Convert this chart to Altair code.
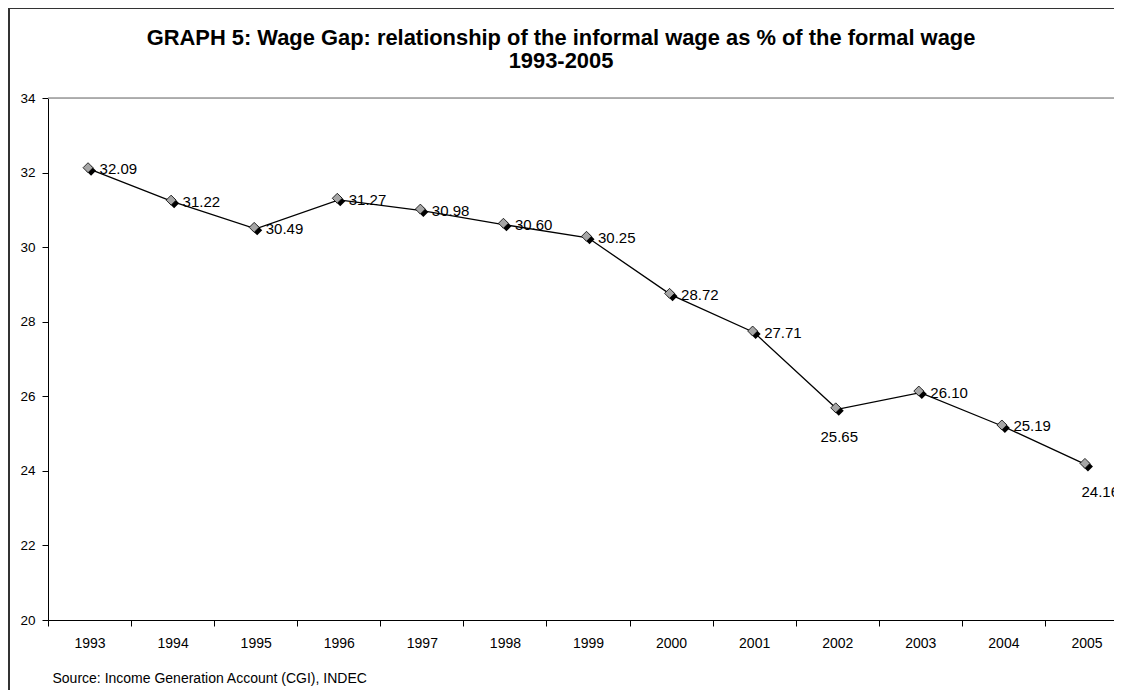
import altair as alt
import pandas as pd

# ---- data ----
years = ["1993", "1994", "1995", "1996", "1997", "1998", "1999",
         "2000", "2001", "2002", "2003", "2004", "2005"]
values = [32.09, 31.22, 30.49, 31.27, 30.98, 30.60, 30.25,
          28.72, 27.71, 25.65, 26.10, 25.19, 24.16]
labels_below = ["2002"]
labels_below_right = ["2005"]
y_ticks = [20, 22, 24, 26, 28, 30, 32, 34]

title_line1 = "GRAPH 5: Wage Gap: relationship of the informal wage as % of the formal wage"
title_line2 = "1993-2005"
source_text = "Source: Income Generation Account (CGI), INDEC"

df = pd.DataFrame({"year": years, "value": values,
                   "label": [f"{v:.2f}" for v in values]})

FONT = "Liberation Sans"
W, H = 1066, 522
BAND_RANGE = 1080

x_enc = alt.X(
    "year:O",
    scale=alt.Scale(type="band", range=[0, BAND_RANGE], paddingInner=0, paddingOuter=0),
    axis=alt.Axis(
        title=source_text,
        titleAnchor="start", titleAlign="left", titleBaseline="middle",
        titleX=4, titleY=58, titleFontSize=14, titleFontWeight="normal",
        titleColor="black", titleFont=FONT,
        labelAngle=0, labelFontSize=14, labelColor="black", labelFont=FONT,
        labelPadding=10,
        domainColor="black", domainWidth=1,
        tickColor="black", tickSize=6, tickBand="extent",
        grid=False,
    ),
)
y_enc = alt.Y(
    "value:Q",
    scale=alt.Scale(domain=[20, 34], nice=False, zero=False),
    axis=alt.Axis(
        title=None, values=y_ticks, format="d",
        labelFontSize=13.5, labelColor="black", labelFont=FONT, labelPadding=7,
        domainColor="black", domainWidth=1,
        tickColor="black", tickSize=6, grid=False,
    ),
)

base = alt.Chart(df).encode(x=x_enc, y=y_enc)

line = base.mark_line(color="black", strokeWidth=1.3)
shadow = base.mark_point(shape="diamond", size=100, filled=True, color="black",
                         opacity=1, xOffset=1.5, yOffset=1.5)
marker = base.mark_point(shape="diamond", size=100, filled=True, fill="#a6a6a6",
                         stroke="black", strokeWidth=0.8, opacity=1,
                         xOffset=-1.5, yOffset=-1.5)

special = labels_below + labels_below_right
cond_normal = " && ".join([f"datum.year != '{y}'" for y in special])
cond_below = " || ".join([f"datum.year == '{y}'" for y in labels_below])
cond_br = " || ".join([f"datum.year == '{y}'" for y in labels_below_right])

txt_style = dict(font=FONT, fontSize=15, color="black")
text_normal = base.transform_filter(cond_normal).mark_text(
    align="left", baseline="middle", dx=10, dy=0, **txt_style).encode(text="label:N")
text_below = base.transform_filter(cond_below).mark_text(
    align="center", baseline="middle", dx=2, dy=28, **txt_style).encode(text="label:N")
text_br = base.transform_filter(cond_br).mark_text(
    align="left", baseline="middle", dx=-5, dy=27, **txt_style).encode(text="label:N")

deco = alt.Chart(pd.DataFrame({"k": [0]}))
top_rule = deco.mark_rule(color="#999999", strokeWidth=1.5).encode(
    x=alt.value(0), x2=alt.value(W + 20), y=alt.value(0))
border_left = deco.mark_rule(color="#333333", strokeWidth=2).encode(
    x=alt.value(-39), y=alt.value(-90), y2=alt.value(H + 200))
border_top = deco.mark_rule(color="#333333", strokeWidth=2).encode(
    x=alt.value(-39), x2=alt.value(W + 100), y=alt.value(-90))

title_style = dict(font=FONT, fontSize=21.9, fontWeight="bold", color="black",
                   align="center", baseline="middle")
title1 = deco.mark_text(**title_style).encode(
    x=alt.value(513), y=alt.value(-60), text=alt.value(title_line1))
title2 = deco.mark_text(**title_style).encode(
    x=alt.value(513), y=alt.value(-37), text=alt.value(title_line2))

chart = alt.layer(
    border_left, border_top, top_rule, title1, title2, line, shadow, marker,
    text_normal, text_below, text_br
).properties(
    width=W, height=H,
    autosize=alt.AutoSizeParams(type="none"),
    padding={"left": 40, "top": 90, "right": 0, "bottom": 70},
).configure_view(stroke="transparent", strokeWidth=0).configure(background="white")

chart.save("out.html", embed_options={"renderer": "svg", "actions": False})
